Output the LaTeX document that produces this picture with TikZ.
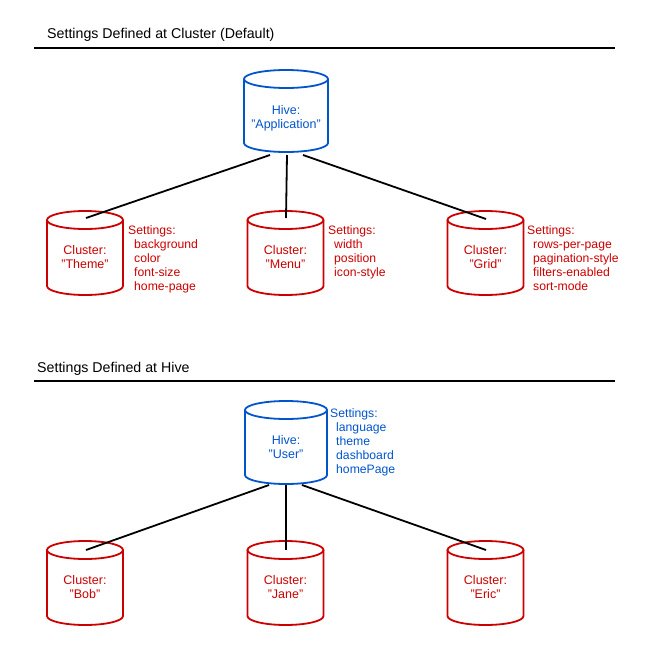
\documentclass[tikz,border=0pt]{standalone}
\usepackage{fontspec}
\setmainfont{Liberation Sans}
\definecolor{cred}{RGB}{204,0,0}
\definecolor{cblue}{RGB}{0,85,204}
% #1 cx, #2 ytop, #3 ybottom, #4 half width, #5 colour
\newcommand{\drawcyl}[5]{%
  \draw[#5, line width=1.8, fill=white]
    (#1-#4, #2+9) -- (#1-#4, #3-9)
    arc[start angle=180, end angle=0, x radius=#4, y radius=9]
    -- (#1+#4, #2+9);
  \draw[#5, line width=1.8] (#1, #2+9) ellipse [x radius=#4, y radius=9];
}
\tikzset{
  head/.style={anchor=west, inner sep=0, font=\fontsize{14.2}{16}\selectfont},
  rule/.style={line width=1.8},
  lbl/.style={align=center, inner sep=0, font=\fontsize{12.5}{14}\selectfont},
  sett/.style={anchor=north west, align=left, inner sep=0, font=\fontsize{12.2}{14}\selectfont},
  conn/.style={line width=1.8, black}
}
\newcommand{\ind}{\hspace*{6pt}}
\begin{document}
\begin{tikzpicture}[x=1pt, y=-1pt]
\useasboundingbox (0,0) rectangle (667,645);

% ---------- section 1 ----------
\node[head] (h1) at (47,35) {Settings Defined at Cluster (Default)};
\draw[rule] (34,48) -- (615,48);

\drawcyl{286}{70}{152}{42}{cblue}
\node[lbl, text=cblue] (app) at (286,118) {Hive:\\"Application"};

\drawcyl{85}{211}{295}{38}{cred}
\node[lbl, text=cred] (theme) at (85,257.5) {Cluster:\\"Theme"};
\node[sett, text=cred] (stheme) at (128,225.5) {Settings:\\\ind background\\\ind color\\\ind font-size\\\ind home-page};

\drawcyl{285.5}{211}{295}{38}{cred}
\node[lbl, text=cred] (menu) at (285.5,257.5) {Cluster:\\"Menu"};
\node[sett, text=cred] (smenu) at (328,225.5) {Settings:\\\ind width\\\ind position\\\ind icon-style};

\drawcyl{485.5}{211}{295}{38}{cred}
\node[lbl, text=cred] (grid) at (485.5,257.5) {Cluster:\\"Grid"};
\node[sett, text=cred] (sgrid) at (527,225.5) {Settings:\\\ind rows-per-page\\\ind pagination-style\\\ind filters-enabled\\\ind sort-mode};

\coordinate (appb1) at (270,155);
\coordinate (appb2) at (287,155);
\coordinate (appb3) at (303,155);
\coordinate (themet) at (86,218);
\coordinate (menut) at (286,218);
\coordinate (gridt) at (486,219);
\draw[conn] (appb1) -- (themet);
\draw[conn] (appb2) -- (menut);
\draw[conn] (appb3) -- (gridt);

% ---------- section 2 ----------
\node[head] (h2) at (37,369) {Settings Defined at Hive};
\draw[rule] (34,381) -- (615,381);

\drawcyl{286}{401}{484}{41}{cblue}
\node[lbl, text=cblue] (user) at (286,447) {Hive:\\"User"};
\node[sett, text=cblue] (suser) at (330,408.5) {Settings:\\\ind language\\\ind theme\\\ind dashboard\\\ind homePage};

\drawcyl{85}{541}{625}{38}{cred}
\node[lbl, text=cred] (bob) at (85,587) {Cluster:\\"Bob"};

\drawcyl{285.5}{541}{625}{38}{cred}
\node[lbl, text=cred] (jane) at (285.5,587) {Cluster:\\"Jane"};

\drawcyl{485.5}{541}{625}{38}{cred}
\node[lbl, text=cred] (eric) at (485.5,587) {Cluster:\\"Eric"};

\coordinate (userb1) at (269,485);
\coordinate (userb2) at (286,485);
\coordinate (userb3) at (302,485);
\coordinate (bobt) at (86,550);
\coordinate (janet) at (286,550);
\coordinate (erict) at (486,550);
\draw[conn] (userb1) -- (bobt);
\draw[conn] (userb2) -- (janet);
\draw[conn] (userb3) -- (erict);
\end{tikzpicture}
\end{document}
